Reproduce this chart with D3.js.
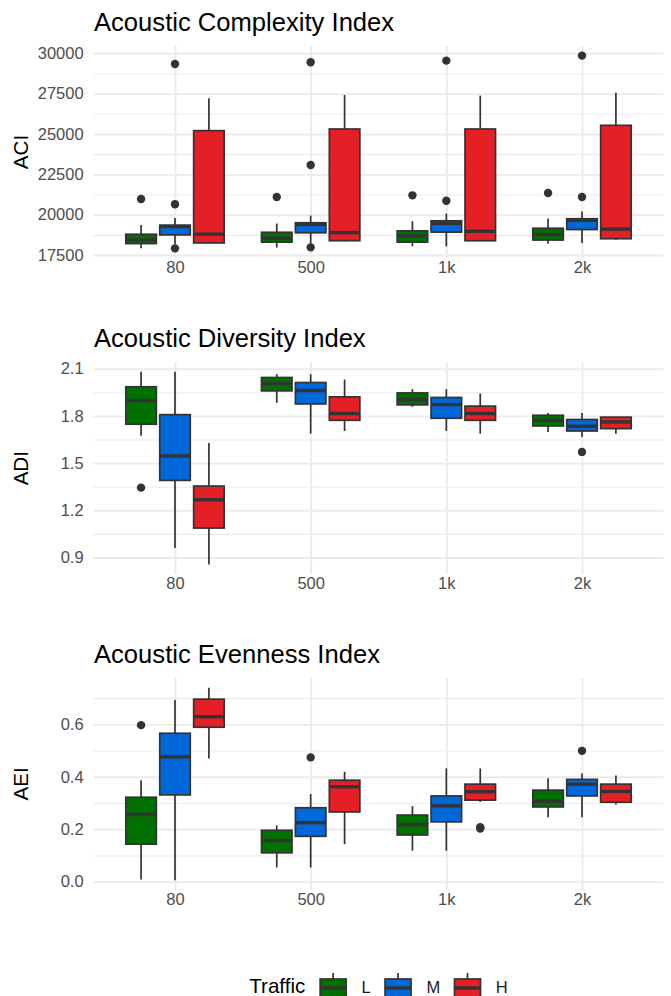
<!DOCTYPE html>
<html>
<head>
<meta charset="utf-8">
<script src="https://cdn.jsdelivr.net/npm/d3@7"></script>
<style>
  body { margin: 0; background: #fff; }
  svg text { font-family: "Liberation Sans", Arial, sans-serif; }
</style>
</head>
<body>
<svg id="chart" width="671" height="996"></svg>
<script>
// categories
const bands = ["80", "500", "1k", "2k"];
const traffic = ["L", "M", "H"];
const trafficColors = ["#007000", "#0068d8", "#e41f26"];

// box stats, one row per band x traffic (80 L, 80 M, 80 H, 500 L, ...)
// [lower whisker, q1, median, q3, upper whisker]
const aciBoxes = [
  [17914, 18210, 18440, 18790, 19360],
  [18150, 18750, 19270, 19350, 19800],
  [18210, 18250, 18790, 25207, 27211],
  [17960, 18300, 18540, 18910, 19450],
  [18150, 18880, 19400, 19500, 19950],
  [18350, 18389, 18890, 25310, 27418],
  [18042, 18300, 18690, 19000, 19600],
  [18042, 18920, 19460, 19620, 20070],
  [18380, 18385, 18970, 25310, 27376],
  [18200, 18430, 18770, 19160, 19760],
  [18240, 19080, 19650, 19750, 20200],
  [18450, 18510, 19110, 25537, 27563]
];
const aciOutliers = [
  ["80", "L", 20970], ["80", "M", 29340], ["80", "M", 20650], ["80", "M", 17914],
  ["500", "L", 21096], ["500", "M", 29443], ["500", "M", 23079], ["500", "M", 17976],
  ["1k", "L", 21199], ["1k", "M", 29545], ["1k", "M", 20868],
  ["2k", "L", 21343], ["2k", "M", 29855], ["2k", "M", 21096]
];
const aciTicks = [17500, 20000, 22500, 25000, 27500, 30000];

const adiBoxes = [
  [1.673, 1.747, 1.898, 1.985, 2.080],
  [0.961, 1.390, 1.545, 1.808, 2.080],
  [0.855, 1.087, 1.267, 1.354, 1.628],
  [1.883, 1.959, 2.006, 2.044, 2.065],
  [1.687, 1.876, 1.961, 2.012, 2.065],
  [1.704, 1.772, 1.815, 1.921, 2.031],
  [1.857, 1.870, 1.904, 1.946, 1.970],
  [1.704, 1.785, 1.872, 1.917, 1.970],
  [1.687, 1.772, 1.815, 1.862, 1.942],
  [1.698, 1.736, 1.772, 1.804, 1.819],
  [1.666, 1.704, 1.734, 1.777, 1.819],
  [1.687, 1.719, 1.762, 1.792, 1.795]
];
const adiOutliers = [["80", "L", 1.344], ["2k", "M", 1.571]];
const adiTicks = [0.9, 1.2, 1.5, 1.8, 2.1];

const aeiBoxes = [
  [0.008, 0.143, 0.256, 0.322, 0.387],
  [0.005, 0.331, 0.476, 0.566, 0.693],
  [0.470, 0.589, 0.629, 0.696, 0.740],
  [0.054, 0.110, 0.157, 0.196, 0.215],
  [0.054, 0.173, 0.225, 0.282, 0.334],
  [0.143, 0.266, 0.362, 0.387, 0.419],
  [0.118, 0.178, 0.218, 0.254, 0.288],
  [0.118, 0.228, 0.289, 0.327, 0.432],
  [0.304, 0.311, 0.343, 0.372, 0.432],
  [0.246, 0.285, 0.307, 0.349, 0.394],
  [0.246, 0.327, 0.372, 0.390, 0.413],
  [0.294, 0.303, 0.344, 0.372, 0.405]
];
const aeiOutliers = [["80", "L", 0.597], ["500", "M", 0.474], ["1k", "H", 0.203], ["1k", "H", 0.208], ["2k", "M", 0.499]];
const aeiTicks = [0.0, 0.2, 0.4, 0.6];

const panels = [
  { title: "Acoustic Complexity Index", label: "ACI", boxes: aciBoxes, outliers: aciOutliers, ticks: aciTicks, fmt: d3.format("d") },
  { title: "Acoustic Diversity Index", label: "ADI", boxes: adiBoxes, outliers: adiOutliers, ticks: adiTicks, fmt: d3.format(".1f") },
  { title: "Acoustic Evenness Index", label: "AEI", boxes: aeiBoxes, outliers: aeiOutliers, ticks: aeiTicks, fmt: d3.format(".1f") }
];

// layout
const svg = d3.select("#chart");
const left = 93.6, right = 663.4, panelH = 212;
const panelTops = [46, 362.2, 678];
const gridCol = "#ebebeb", lineCol = "#333333", tickCol = "#4d4d4d";

const x = d3.scalePoint().domain(bands).range([left, right]).padding(0.6);
const step = x.step();
const dodge = d3.scalePoint().domain(traffic).range([-0.25 * step, 0.25 * step]);
const boxW = 0.225 * step;
const color = d3.scaleOrdinal().domain(traffic).range(trafficColors);

panels.forEach((p, k) => {
  const top = panelTops[k];
  const bottom = top + panelH;
  const g = svg.append("g");

  const all = p.boxes.flat().concat(p.outliers.map(d => d[2]));
  const [lo, hi] = d3.extent(all);
  const pad = (hi - lo) * 0.05;
  const y = d3.scaleLinear().domain([lo - pad, hi + pad]).range([bottom, top]);

  // minor gridlines halfway between the major ones
  const half = (p.ticks[1] - p.ticks[0]) / 2;
  const minor = d3.range(p.ticks[0] - half, p.ticks[p.ticks.length - 1] + half * 1.01, half * 2)
    .filter(v => v >= y.domain()[0] && v <= y.domain()[1]);

  g.append("g")
    .attr("transform", "translate(" + left + ",0)")
    .call(d3.axisLeft(y).tickValues(minor).tickSize(-(right - left)).tickFormat(""))
    .call(a => a.select(".domain").remove())
    .selectAll("line").attr("stroke", gridCol).attr("stroke-width", 1.1);

  g.append("g")
    .attr("transform", "translate(" + left + ",0)")
    .call(d3.axisLeft(y).tickValues(p.ticks).tickSize(-(right - left)).tickFormat(""))
    .call(a => a.select(".domain").remove())
    .selectAll("line").attr("stroke", gridCol).attr("stroke-width", 1.9);

  g.append("g")
    .attr("transform", "translate(0," + bottom + ")")
    .call(d3.axisBottom(x).tickSize(panelH).tickFormat(""))
    .call(a => a.select(".domain").remove())
    .selectAll("line").attr("y2", -panelH).attr("stroke", gridCol).attr("stroke-width", 1.9);

  // tick labels
  g.append("g")
    .attr("transform", "translate(" + left + ",0)")
    .call(d3.axisLeft(y).tickValues(p.ticks).tickSize(0).tickPadding(10).tickFormat(p.fmt))
    .call(a => a.select(".domain").remove())
    .selectAll("text").attr("font-size", 16.5).attr("fill", tickCol)
    .attr("font-family", "'Liberation Sans', Arial, sans-serif");

  g.append("g")
    .attr("transform", "translate(0," + bottom + ")")
    .call(d3.axisBottom(x).tickSize(0).tickPadding(3.3))
    .call(a => a.select(".domain").remove())
    .selectAll("text").attr("font-size", 16.5).attr("fill", tickCol)
    .attr("font-family", "'Liberation Sans', Arial, sans-serif");

  // titles
  g.append("text")
    .attr("x", 94).attr("y", top - 15.3)
    .attr("font-size", 25.6).attr("fill", "#000")
    .text(p.title);

  g.append("text")
    .attr("transform", "translate(28," + (top + panelH / 2) + ") rotate(-90)")
    .attr("text-anchor", "middle")
    .attr("font-size", 20.6).attr("fill", "#000")
    .text(p.label);

  // boxes
  const rows = p.boxes.map((b, i) => ({
    band: bands[Math.floor(i / 3)], t: traffic[i % 3],
    lower: b[0], q1: b[1], med: b[2], q3: b[3], upper: b[4]
  }));
  const cx = d => x(d.band) + dodge(d.t);

  const box = g.selectAll(".box").data(rows).join("g").attr("class", "box");
  box.append("line")
    .attr("x1", cx).attr("x2", cx)
    .attr("y1", d => y(d.upper)).attr("y2", d => y(d.q3))
    .attr("stroke", lineCol).attr("stroke-width", 1.7);
  box.append("line")
    .attr("x1", cx).attr("x2", cx)
    .attr("y1", d => y(d.q1)).attr("y2", d => y(d.lower))
    .attr("stroke", lineCol).attr("stroke-width", 1.7);
  box.append("rect")
    .attr("x", d => cx(d) - boxW / 2).attr("width", boxW)
    .attr("y", d => y(d.q3)).attr("height", d => y(d.q1) - y(d.q3))
    .attr("fill", d => color(d.t))
    .attr("stroke", lineCol).attr("stroke-width", 1.7);
  box.append("line")
    .attr("x1", d => cx(d) - boxW / 2).attr("x2", d => cx(d) + boxW / 2)
    .attr("y1", d => y(d.med)).attr("y2", d => y(d.med))
    .attr("stroke", lineCol).attr("stroke-width", 3.4);

  g.selectAll(".outlier").data(p.outliers).join("circle")
    .attr("class", "outlier")
    .attr("cx", d => x(d[0]) + dodge(d[1]))
    .attr("cy", d => y(d[2]))
    .attr("r", 4.2)
    .attr("fill", lineCol);
});

// legend
const legend = svg.append("g");
const legY = 993;
const keyW = 34.7, keyBoxW = 26;
const ltitle = legend.append("text")
  .attr("y", legY).attr("font-size", 20.6).attr("fill", "#000")
  .text("Traffic");
let cursor = ltitle.node().getComputedTextLength() + 10.5;
traffic.forEach((t, i) => {
  const it = legend.append("g");
  const kx = cursor + keyW / 2;
  it.append("line")
    .attr("x1", kx).attr("x2", kx).attr("y1", 973).attr("y2", 1003)
    .attr("stroke", lineCol).attr("stroke-width", 1.7);
  it.append("rect")
    .attr("x", kx - keyBoxW / 2).attr("width", keyBoxW)
    .attr("y", 979).attr("height", 18)
    .attr("fill", trafficColors[i]).attr("stroke", lineCol).attr("stroke-width", 1.7);
  it.append("line")
    .attr("x1", kx - keyBoxW / 2).attr("x2", kx + keyBoxW / 2)
    .attr("y1", 988).attr("y2", 988)
    .attr("stroke", lineCol).attr("stroke-width", 3.4);
  cursor += keyW + 11;
  const lab = it.append("text")
    .attr("x", cursor).attr("y", legY)
    .attr("font-size", 16.5).attr("fill", "#1a1a1a")
    .text(t);
  cursor += lab.node().getComputedTextLength() + (i < traffic.length - 1 ? 10 : 0);
});
const legCenter = (left + right) / 2;
legend.attr("transform", "translate(" + (legCenter - cursor / 2) + ",0)");
</script>
</body>
</html>
